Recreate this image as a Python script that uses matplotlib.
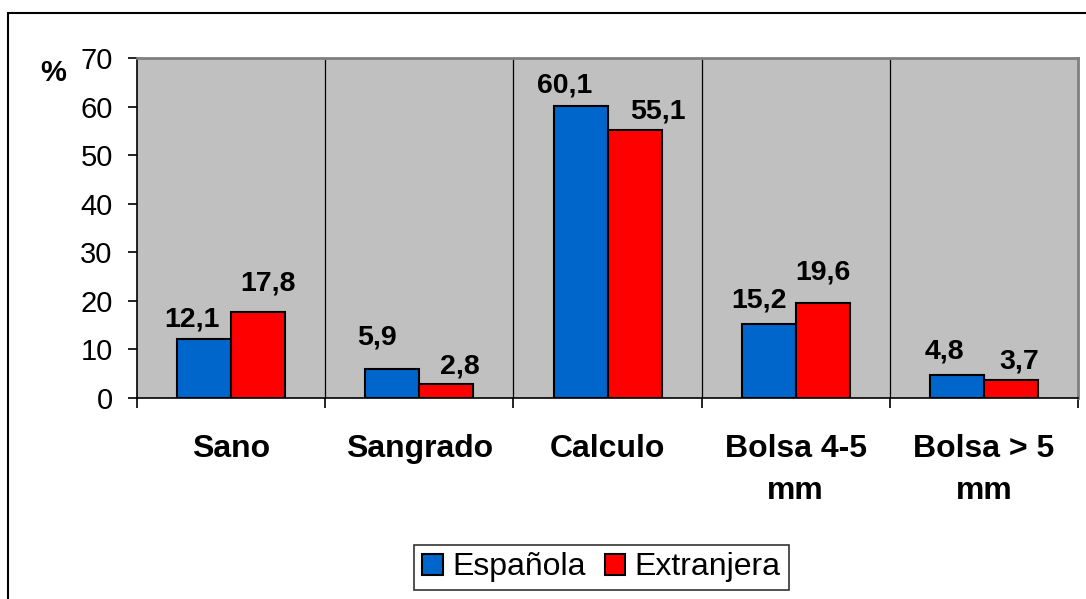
import matplotlib
matplotlib.use("Agg")
import matplotlib.pyplot as plt
from matplotlib.patches import Rectangle, Patch
import numpy as np

categories = ["Sano", "Sangrado", "Calculo", "Bolsa 4-5\nmm", "Bolsa > 5\nmm"]
espanola = [12.1, 5.9, 60.1, 15.2, 4.8]
extranjera = [17.8, 2.8, 55.1, 19.6, 3.7]
series_names = ["Española", "Extranjera"]
yticks = [0, 10, 20, 30, 40, 50, 60, 70]

# label nudges in pixels (layout only): horizontal, vertical gap above bar
nudge_x_esp = [-12.5, -15, -15.5, -9.5, -12]
nudge_x_ext = [9.5, 14, 23.5, 0, 8]
gap_esp = [12, 24, 13, 16, 15]
gap_ext = [20, 10, 11, 22, 11]

plt.rcParams['font.family'] = ['Liberation Sans', 'DejaVu Sans']

fig = plt.figure(figsize=(10.86, 5.99), dpi=100)
ax = fig.add_axes([137/1086, 1-398/599, (1078-137)/1086, (398-58)/599])
ax.set_facecolor("#C0C0C0")

x = np.arange(len(categories)) + 0.5
w = 54/188.2
blue = "#0066CC"
red = "#FF0000"
b1 = ax.bar(x - w/2, espanola, w, color=blue, edgecolor="black", linewidth=1.5, zorder=3)
b2 = ax.bar(x + w/2, extranjera, w, color=red, edgecolor="black", linewidth=1.5, zorder=3)

px = 0.72  # points per pixel at dpi 100
vfs = 20.5
for bars, vals, dxs, gaps in [(b1, espanola, nudge_x_esp, gap_esp), (b2, extranjera, nudge_x_ext, gap_ext)]:
    for rect, v, dx, g in zip(bars, vals, dxs, gaps):
        ax.annotate(f"{v:.1f}".replace(".", ","), (rect.get_x() + rect.get_width()/2, v),
                    xytext=(dx*px, (g - 5)*px), textcoords="offset points", ha="center",
                    va="bottom", fontsize=vfs, fontweight="bold")

ax.set_xlim(0, len(categories))
ax.set_ylim(0, 70)
ax.set_yticks(yticks)
ax.set_yticklabels([str(t) for t in yticks], fontsize=21)
ax.tick_params(axis="y", direction="out", length=6.5, width=1.2, pad=11)

ax.set_xticks(np.arange(len(categories) + 1))
ax.set_xticklabels([""] * (len(categories) + 1))
ax.tick_params(axis="x", which="major", direction="out", length=7, width=1.2)
ax.set_xticks(x, minor=True)
ax.set_xticklabels(categories, minor=True, fontsize=23, fontweight="bold", linespacing=1.5)
ax.tick_params(axis="x", which="minor", length=0, pad=26)

for b in range(1, len(categories)):
    ax.axvline(b, color="black", linewidth=0.9, zorder=2)

ax.spines["left"].set_color("black")
ax.spines["bottom"].set_color("black")
ax.spines["left"].set_linewidth(1.2)
ax.spines["bottom"].set_linewidth(1.2)
for s in ["top", "right"]:
    ax.spines[s].set_color("#808080")
    ax.spines[s].set_linewidth(2)

fig.text(53/1086, 1-73/599, "%", fontsize=21, fontweight="bold", ha="center", va="center")

handles = [Patch(facecolor=blue, edgecolor="black", linewidth=1.5),
           Patch(facecolor=red, edgecolor="black", linewidth=1.5)]
leg = fig.legend(handles, series_names, loc="center", bbox_to_anchor=(601.5/1086, 1-567.5/599),
                 ncol=2, fontsize=23, frameon=True, fancybox=False, handlelength=0.63,
                 handleheight=0.63, handletextpad=0.3, columnspacing=0.6,
                 borderpad=0.25, borderaxespad=0)
leg.get_frame().set_edgecolor("black")
leg.get_frame().set_linewidth(1.2)

fig.patches.append(Rectangle((8/1086, -0.2), 1.2, 1 - 13/599 + 0.2, transform=fig.transFigure,
                             fill=False, edgecolor="black", linewidth=1.5))

fig.savefig("out.png", dpi=100)
